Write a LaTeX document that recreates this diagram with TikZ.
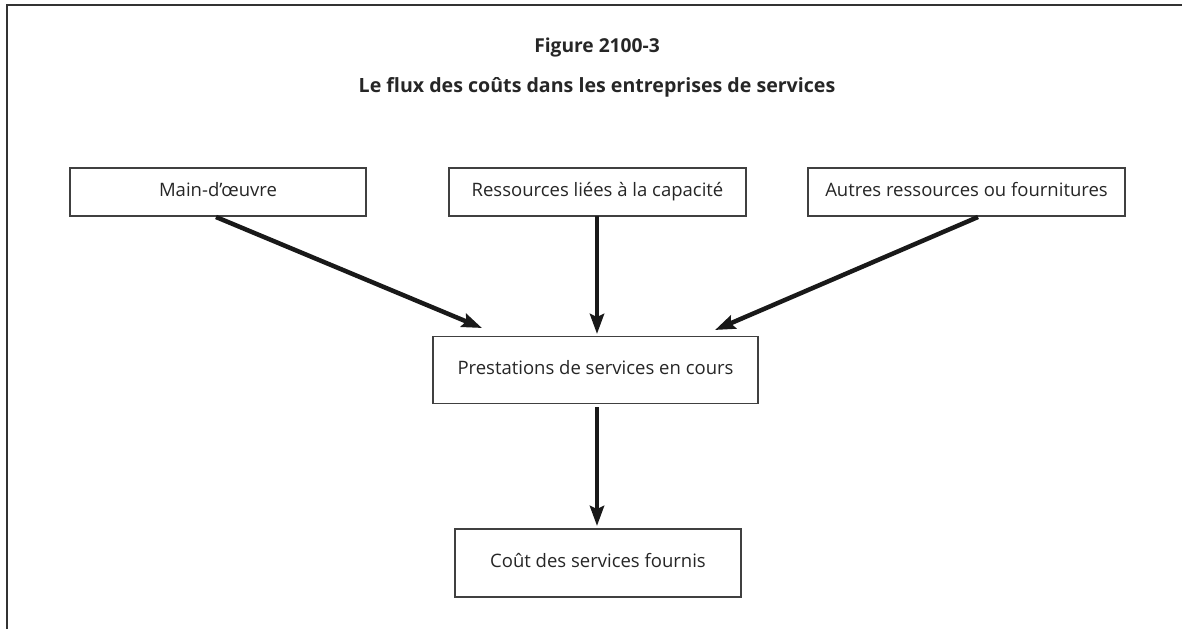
\documentclass[tikz,border=0pt]{standalone}
\usepackage{fontspec}
\setmainfont{Open Sans}
\usetikzlibrary{arrows.meta}
\begin{document}
\begin{tikzpicture}[x=1pt,y=-1pt,
  boxstyle/.style={draw=black!75,line width=1.1pt,inner sep=0pt,text height=13pt,text depth=4pt,font=\fontsize{18.5}{21}\selectfont,text=black!85},
  flow/.style={line width=4.5pt,draw=black!90,-{Stealth[length=20pt,width=14pt,inset=3pt]}},
  titlestyle/.style={font=\bfseries\fontsize{19.2}{23}\selectfont,text=black!85,anchor=base},
  subtitlestyle/.style={font=\bfseries\fontsize{19.6}{22}\selectfont,text=black!85,anchor=base}]
\useasboundingbox (0,0) rectangle (1182,629);
\draw[line width=2pt,black!80] (6.5,629) -- (6.5,4.5) -- (1182,4.5);
\node[titlestyle] (title) at (597,52) {Figure 2100-3};
\node[subtitlestyle] (subtitle) at (597,92.5) {Le flux des coûts dans les entreprises de services};
\node[boxstyle,minimum width=296pt,minimum height=48pt] (mo) at (218,192) {Main-d’œuvre};
\node[boxstyle,minimum width=297pt,minimum height=48pt] (rc) at (597.5,192) {Ressources liées à la capacité};
\node[boxstyle,minimum width=317pt,minimum height=48pt] (ar) at (966.5,192) {Autres ressources ou fournitures};
\node[boxstyle,minimum width=325pt,minimum height=67pt] (ps) at (595.5,370) {Prestations de services en cours};
\node[boxstyle,minimum width=286pt,minimum height=68pt] (cs) at (598,563) {Coût des services fournis};
\coordinate (a1s) at (216,217);
\coordinate (a1e) at (482,328);
\coordinate (a2s) at (597,216);
\coordinate (a2e) at (597,334);
\coordinate (a3s) at (978,217);
\coordinate (a3e) at (715,330);
\coordinate (a4s) at (597,407);
\coordinate (a4e) at (597,526);
\draw[flow] (a1s) -- (a1e);
\draw[flow] (a2s) -- (a2e);
\draw[flow] (a3s) -- (a3e);
\draw[flow] (a4s) -- (a4e);
\end{tikzpicture}
\end{document}
